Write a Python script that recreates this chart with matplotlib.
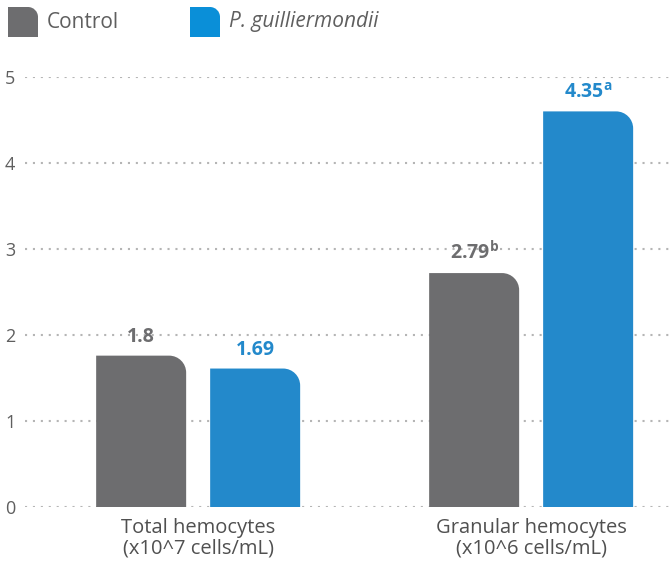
import numpy as np
import matplotlib
matplotlib.use("Agg")
import matplotlib.pyplot as plt
from matplotlib.path import Path
from matplotlib.patches import PathPatch

plt.rcParams['font.family'] = ['Open Sans', 'DejaVu Sans']
plt.rcParams['mathtext.fontset'] = 'custom'
plt.rcParams['mathtext.rm'] = 'Open Sans'
plt.rcParams['mathtext.bf'] = 'Open Sans:bold'

# data
groups = ['Total hemocytes\n(x10^7 cells/mL)', 'Granular hemocytes\n(x10^6 cells/mL)']
series = ['Control', 'P. guilliermondii']
control = [1.76, 2.72]
guill = [1.61, 4.60]
control_labels = ['1.8', r'2.79$^{\mathbf{b}}$']
guill_labels = ['1.69', r'4.35$^{\mathbf{a}}$']
yticks = [0, 1, 2, 3, 4, 5]

GRAY = '#6d6d6f'
BLUE = '#2389cb'
BLUE_LEG = '#0a8fd8'
TXT = '#5f5f5f'


def round_top_right(x0, x1, y0, y1, rx, ry):
    k = 0.5523
    verts = [(x0, y0), (x1, y0), (x1, y1 - ry),
             (x1, y1 - ry + k * ry), (x1 - rx + k * rx, y1), (x1 - rx, y1),
             (x0, y1), (x0, y0)]
    codes = [Path.MOVETO, Path.LINETO, Path.LINETO,
             Path.CURVE4, Path.CURVE4, Path.CURVE4,
             Path.LINETO, Path.CLOSEPOLY]
    return Path(verts, codes)


fig = plt.figure(figsize=(6.7, 5.63), dpi=100)
ax = fig.add_axes([25 / 670, 56 / 563, 645 / 670, 430 / 563])
ax.set_xlim(-0.52, 1.417)
ax.set_ylim(0, 5)

# px -> data scales
sx = (1.417 + 0.52) / 645
sy = 5 / 430
width = 90 * sx
off = 57 * sx
rx, ry = 17 * sx, 17 * sy

x = np.arange(len(groups))
for vals, labs, col in [(control, control_labels, GRAY), (guill, guill_labels, BLUE)]:
    pos = x - off if col == GRAY else x + off
    for xi, v, lab in zip(pos, vals, labs):
        ax.add_patch(PathPatch(round_top_right(xi - width / 2, xi + width / 2, 0, v, rx, ry),
                               facecolor=col, edgecolor='none', zorder=3))
        ax.text(xi, v + 9 * sy, lab, ha='center', va='bottom', fontsize=14,
                fontweight='bold', color=col, zorder=4)

ax.set_yticks(yticks)
ax.yaxis.grid(True, color='#b5b5b5', linestyle=(0, (1, 2.8)), linewidth=1.5, zorder=0)
ax.tick_params(axis='y', length=0, pad=7, labelsize=13, labelcolor=TXT)
ax.set_xticks(x)
ax.set_xticklabels(groups, fontsize=14.5, color='#505050', linespacing=1.05)
ax.tick_params(axis='x', length=0, pad=8)
for s in ax.spines.values():
    s.set_visible(False)
ax.patch.set_alpha(0)

# legend drawn by hand
lax = fig.add_axes([0, 0, 1, 1], zorder=-1)
lax.set_xlim(0, 670)
lax.set_ylim(563, 0)
lax.axis('off')
legend_x = [8, 190]
for lx, name, col in zip(legend_x, series, [GRAY, BLUE_LEG]):
    p = round_top_right(lx, lx + 30, 37, 7, 10, -10)
    lax.add_patch(PathPatch(p, facecolor=col, edgecolor='none'))
    lax.text(lx + 39, 22, name, ha='left', va='center', fontsize=15, color=TXT,
             fontstyle='italic' if col == BLUE_LEG else 'normal')

fig.savefig('out.png', dpi=100)
